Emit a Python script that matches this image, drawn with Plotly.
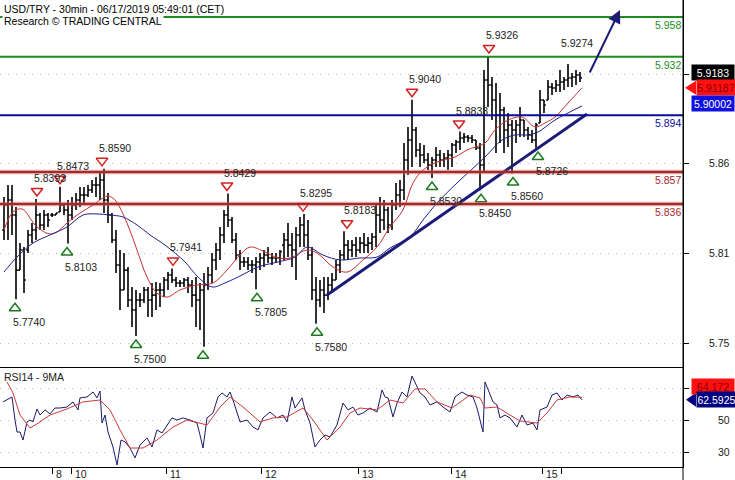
import plotly.graph_objects as go
from plotly.subplots import make_subplots

# USD/TRY 30min, values (every second 30-min bar)
bar_x = list(range(2, 292, 2))

bar_open = [
    5.8191, 5.8354, 5.8387, 5.8289, 5.7930, 5.8061, 5.8061, 5.8159, 5.8191, 5.8289,
    5.8224, 5.8289, 5.8289, 5.8289, 5.8309, 5.8354, 5.8322, 5.8289, 5.8354, 5.8387,
    5.8419, 5.8419, 5.8452, 5.8485, 5.8485, 5.8517, 5.8387, 5.8289, 5.8126, 5.7963,
    5.7800, 5.7930, 5.7735, 5.7670, 5.7735, 5.7735, 5.7800, 5.7735, 5.7767, 5.7800,
    5.7800, 5.7865, 5.7898, 5.7865, 5.7846, 5.7846, 5.7865, 5.7833, 5.7767, 5.7735,
    5.7800, 5.7833, 5.7898, 5.7996, 5.8061, 5.8159, 5.8289, 5.8256, 5.8126, 5.8028,
    5.7983, 5.7983, 5.7963, 5.7963, 5.7983, 5.8009, 5.8028, 5.8009, 5.8009, 5.8009,
    5.8093, 5.8126, 5.8093, 5.8061, 5.8159, 5.8224, 5.8159, 5.8028, 5.7800, 5.7735,
    5.7800, 5.7767, 5.7833, 5.7865, 5.7963, 5.8028, 5.8093, 5.8061, 5.8093, 5.8061,
    5.8106, 5.8093, 5.8106, 5.8146, 5.8289, 5.8256, 5.8322, 5.8224, 5.8354, 5.8419,
    5.8452, 5.8648, 5.8778, 5.8843, 5.8713, 5.8680, 5.8648, 5.8615, 5.8648, 5.8680,
    5.8648, 5.8661, 5.8680, 5.8745, 5.8765, 5.8791, 5.8798, 5.8791, 5.8778, 5.8726,
    5.8615, 5.9169, 5.9137, 5.9039, 5.8941, 5.8974, 5.8843, 5.8876, 5.8843, 5.8876,
    5.8908, 5.8843, 5.8811, 5.8778, 5.8889, 5.9039, 5.9039, 5.9124, 5.9117, 5.9137,
    5.9156, 5.9169, 5.9182, 5.9189, 5.9202,
]
bar_high = [
    5.8406, 5.8485, 5.8485, 5.8341, 5.8106, 5.8080, 5.8191, 5.8237, 5.8393, 5.8302,
    5.8322, 5.8302, 5.8302, 5.8302, 5.8473, 5.8354, 5.8387, 5.8406, 5.8432, 5.8472,
    5.8472, 5.8485, 5.8517, 5.8537, 5.8563, 5.8590, 5.8432, 5.8302, 5.8191, 5.8061,
    5.8041, 5.7950, 5.7820, 5.7800, 5.7780, 5.7820, 5.7820, 5.7846, 5.7852, 5.7846,
    5.7885, 5.7917, 5.7941, 5.7885, 5.7865, 5.7878, 5.7885, 5.7865, 5.7885, 5.7846,
    5.7911, 5.7950, 5.8041, 5.8106, 5.8211, 5.8322, 5.8429, 5.8276, 5.8172, 5.8061,
    5.8015, 5.8015, 5.7996, 5.8015, 5.8041, 5.8061, 5.8080, 5.8041, 5.8041, 5.8061,
    5.8172, 5.8237, 5.8172, 5.8211, 5.8276, 5.8295, 5.8256, 5.8080, 5.7885, 5.7865,
    5.7885, 5.7885, 5.7911, 5.7996, 5.8061, 5.8183, 5.8126, 5.8126, 5.8146, 5.8146,
    5.8172, 5.8146, 5.8172, 5.8367, 5.8406, 5.8387, 5.8341, 5.8387, 5.8498, 5.8517,
    5.8758, 5.8863, 5.9040, 5.8863, 5.8758, 5.8745, 5.8693, 5.8667, 5.8732, 5.8713,
    5.8693, 5.8713, 5.8758, 5.8778, 5.8833, 5.8824, 5.8811, 5.8811, 5.8778, 5.8758,
    5.9234, 5.9326, 5.9189, 5.9150, 5.9084, 5.8993, 5.8954, 5.8908, 5.8908, 5.8993,
    5.8908, 5.8863, 5.8843, 5.8889, 5.9104, 5.9039, 5.9169, 5.9150, 5.9169, 5.9234,
    5.9189, 5.9274, 5.9215, 5.9234, 5.9221,
]
bar_low = [
    5.8126, 5.8126, 5.8159, 5.7740, 5.7930, 5.7780, 5.8041, 5.8106, 5.8126, 5.8191,
    5.8191, 5.8211, 5.8276, 5.8289, 5.8309, 5.8289, 5.8103, 5.8256, 5.8322, 5.8341,
    5.8367, 5.8406, 5.8432, 5.8406, 5.8387, 5.8302, 5.8237, 5.8106, 5.7911, 5.7670,
    5.7800, 5.7689, 5.7559, 5.7500, 5.7689, 5.7715, 5.7624, 5.7624, 5.7670, 5.7689,
    5.7754, 5.7800, 5.7846, 5.7820, 5.7820, 5.7820, 5.7780, 5.7689, 5.7559, 5.7539,
    5.7430, 5.7800, 5.7846, 5.7930, 5.7996, 5.8106, 5.8211, 5.8106, 5.7996, 5.7930,
    5.7950, 5.7930, 5.7911, 5.7805, 5.7930, 5.7950, 5.7976, 5.7963, 5.7976, 5.7963,
    5.7996, 5.8015, 5.7950, 5.7865, 5.8080, 5.8080, 5.7996, 5.7735, 5.7580, 5.7689,
    5.7650, 5.7735, 5.7780, 5.7865, 5.7911, 5.7996, 5.7996, 5.8015, 5.8015, 5.8041,
    5.8041, 5.8041, 5.8061, 5.8080, 5.8172, 5.8191, 5.8172, 5.8191, 5.8322, 5.8341,
    5.8387, 5.8550, 5.8602, 5.8667, 5.8602, 5.8628, 5.8582, 5.8530, 5.8602, 5.8602,
    5.8602, 5.8582, 5.8602, 5.8693, 5.8713, 5.8758, 5.8765, 5.8758, 5.8713, 5.8450,
    5.8563, 5.8993, 5.8908, 5.8693, 5.8758, 5.8693, 5.8732, 5.8560, 5.8758, 5.8798,
    5.8798, 5.8778, 5.8758, 5.8726, 5.8889, 5.8954, 5.9039, 5.9071, 5.9091, 5.9091,
    5.9104, 5.9124, 5.9124, 5.9137, 5.9156,
]
bar_close = [
    5.8354, 5.8387, 5.8289, 5.7930, 5.8061, 5.7865, 5.8159, 5.8191, 5.8289, 5.8224,
    5.8289, 5.8256, 5.8289, 5.8302, 5.8354, 5.8322, 5.8289, 5.8354, 5.8387, 5.8419,
    5.8419, 5.8452, 5.8485, 5.8485, 5.8517, 5.8387, 5.8289, 5.8126, 5.7963, 5.7800,
    5.7930, 5.7735, 5.7670, 5.7735, 5.7735, 5.7800, 5.7735, 5.7767, 5.7800, 5.7800,
    5.7865, 5.7898, 5.7865, 5.7846, 5.7846, 5.7865, 5.7833, 5.7767, 5.7735, 5.7800,
    5.7833, 5.7898, 5.7996, 5.8061, 5.8159, 5.8289, 5.8256, 5.8126, 5.8028, 5.7983,
    5.7983, 5.7963, 5.7963, 5.7983, 5.8009, 5.8028, 5.8009, 5.8009, 5.8009, 5.8050,
    5.8126, 5.8093, 5.8061, 5.8159, 5.8224, 5.8159, 5.8028, 5.7800, 5.7735, 5.7800,
    5.7767, 5.7833, 5.7865, 5.7963, 5.8028, 5.8093, 5.8061, 5.8093, 5.8061, 5.8106,
    5.8093, 5.8106, 5.8146, 5.8289, 5.8256, 5.8322, 5.8224, 5.8354, 5.8419, 5.8452,
    5.8648, 5.8778, 5.8843, 5.8713, 5.8680, 5.8648, 5.8615, 5.8648, 5.8680, 5.8648,
    5.8661, 5.8680, 5.8745, 5.8765, 5.8791, 5.8798, 5.8791, 5.8778, 5.8726, 5.8615,
    5.9169, 5.9137, 5.9039, 5.8941, 5.8974, 5.8843, 5.8876, 5.8843, 5.8876, 5.8908,
    5.8843, 5.8811, 5.8778, 5.8876, 5.9039, 5.9006, 5.9124, 5.9117, 5.9137, 5.9156,
    5.9169, 5.9182, 5.9189, 5.9202, 5.9183,
]

# moving averages on price (red = fast, blue = slow)
ma_fast_x = [2, 6.5, 11, 18.5, 25, 28.5, 33.5, 40, 46.5, 51.5, 54, 57.5, 63.5, 68.5, 73.5,
             78.5, 83.5, 90, 98.5, 106.5, 113.5, 120, 125, 132.5, 139, 145, 153.5, 158.5,
             166.5, 173.5, 181.5, 188.5, 195, 201.5, 206.5, 211.5, 218.5, 227.5, 233.5,
             242.5, 247.5, 254, 261, 267.5, 272.5, 277.5, 284, 291]
ma_fast = [5.8191, 5.8309, 5.8328, 5.8211, 5.8165, 5.8178, 5.8237, 5.8302, 5.8354, 5.8400,
           5.8413, 5.8387, 5.8237, 5.8061, 5.7885, 5.7780, 5.7754, 5.7800, 5.7833, 5.7846,
           5.7930, 5.8028, 5.8080, 5.8048, 5.8009, 5.8009, 5.8061, 5.8041, 5.7950, 5.7917,
           5.7996, 5.8080, 5.8211, 5.8322, 5.8498, 5.8582, 5.8634, 5.8667, 5.8713, 5.8758,
           5.8843, 5.8908, 5.8928, 5.8863, 5.8889, 5.8928, 5.9019, 5.91187]
ma_slow_x = [2, 8.5, 16.5, 25, 33.5, 41.5, 48.5, 55, 61.5, 68.5, 75, 82.5, 92.5, 99, 106,
             112.5, 121, 129, 139, 147.5, 153.5, 161.5, 170, 180, 188.5, 195, 205, 211.5,
             218.5, 228.5, 242.5, 251, 257.5, 264, 269, 277.5, 291]
ma_slow = [5.7917, 5.8015, 5.8106, 5.8159, 5.8211, 5.8289, 5.8296, 5.8289, 5.8276, 5.8224,
           5.8159, 5.8093, 5.7983, 5.7885, 5.7820, 5.7846, 5.7898, 5.7950, 5.7983, 5.8015,
           5.8080, 5.8028, 5.7996, 5.8009, 5.8015, 5.8074, 5.8146, 5.8256, 5.8367, 5.8498,
           5.8667, 5.8778, 5.8811, 5.8811, 5.8830, 5.8908, 5.90002]

# RSI14 and its 9-period MA
rsi_x = [1.5, 5, 6, 7.5, 8.5, 10, 11.5, 13.5, 15, 16.5, 18.5, 20, 22.5, 25, 27.5, 30, 33.5,
         36.5, 39, 40, 43.5, 46.5, 48.5, 50, 51, 52.5, 54, 56.5, 58.5, 60.5, 62.5, 65, 67.5,
         70, 73.5, 76, 78.5, 81, 83.5, 86, 88.5, 91.5, 95, 98.5, 100, 101.5, 103.5, 106.5,
         109, 111, 113.5, 115, 116.5, 120, 123.5, 126.5, 129, 131.5, 135, 138.5, 141.5,
         143.5, 146, 147.5, 151, 152.5, 155, 157.5, 160, 162.5, 165, 168.5, 171.5, 174,
         176.5, 179, 181.5, 185, 188.5, 191, 192.5, 194, 196.5, 198.5, 201, 203.5, 206,
         207.5, 210, 212.5, 215, 218.5, 221.5, 225, 227.5, 231, 233.5, 236.5, 238.5, 240,
         241.5, 242.5, 244, 246.5, 248.5, 250, 252.5, 255, 258.5, 261, 263.5, 266.5, 268.5,
         270, 273.5, 276, 278.5, 281, 283.5, 286.5, 289, 291]
rsi = [61.3, 63.8, 64.4, 50, 42.5, 42.5, 37.5, 48.8, 50, 48.8, 56.9, 53.1, 56.3, 53.8, 57.5,
       57.5, 58.1, 61.3, 56.3, 63.8, 64.4, 67.5, 63.8, 68.1, 48.1, 53.1, 42.5, 33.1, 21.9,
       37.5, 36.3, 32.5, 26.3, 34.4, 38.8, 33.1, 43.8, 41.9, 46.9, 51.3, 50, 51.3, 50, 48.1,
       40.6, 32.5, 51.3, 54.4, 64.4, 66.9, 64.4, 67.5, 62.5, 48.8, 50, 45.6, 43.8, 51.3, 55,
       51.3, 53.1, 48.8, 64.4, 57.5, 63.8, 56.3, 48.1, 33.1, 37.5, 40.6, 39.4, 46.9, 60.6,
       56.3, 58.1, 53.1, 54.4, 57.5, 55, 68.8, 64.4, 63.8, 51.9, 60.6, 67.5, 64.4, 77.5, 73.1,
       66.9, 64.4, 59.4, 61.3, 58.1, 55, 64.4, 67.5, 65.6, 64.4, 57.5, 50, 42.5, 73.8, 68.8,
       61.3, 59.4, 51.3, 53.1, 51.3, 45.6, 53.1, 46.9, 48.1, 43.8, 56.3, 58.1, 65.6, 66.9,
       62.5, 65.6, 64.4, 65.6, 62.5925]
rsi_ma_x = [3.5, 6.5, 10, 15, 20, 25, 33.5, 41.5, 50, 55, 60, 65, 71.5, 78.5, 86.5, 93.5,
            103.5, 110, 115, 121.5, 130, 136.5, 143.5, 151.5, 156.5, 163.5, 170, 175, 180,
            188.5, 195, 201.5, 207.5, 212.5, 218.5, 226, 235, 240, 242.5, 248.5, 255, 260,
            268.5, 273.5, 278.5, 285, 291]
rsi_ma = [73.8, 66.9, 53.1, 45, 48.8, 53.1, 56.9, 61.3, 62.5, 56.3, 43.8, 32.5, 32.5, 37.5,
          45.6, 50, 46.9, 58.1, 64.4, 58.1, 48.8, 51.3, 51.9, 57.5, 50, 37.5, 45.6, 54.4, 57.5,
          56.3, 62.5, 60.6, 69.4, 69.4, 61.3, 57.5, 65.6, 63.8, 57.5, 58.1, 53.1, 49.4, 48.1,
          54.4, 62.5, 64.4, 64.172]

# TRADING CENTRAL pivots
pivot_hi_x = [18.5, 30, 51, 86.5, 113.5, 151.5, 173.5, 206, 229.5, 244.5]
pivot_hi = [5.8393, 5.8473, 5.8590, 5.7941, 5.8429, 5.8295, 5.8183, 5.9040, 5.8833, 5.9326]
pivot_lo_x = [7.5, 33.5, 68, 101.5, 128.5, 158.5, 216, 240.5, 256.5, 269]
pivot_lo = [5.7740, 5.8103, 5.7500, 5.7430, 5.7805, 5.7580, 5.8530, 5.8450, 5.8560, 5.8726]
pivot_lo_txt = ["5.7740", "5.8103", "5.7500", "", "5.7805", "5.7580", "5.8530", "5.8450",
                "5.8560", "5.8726"]
last_peak_x = 282
last_peak = 5.9274

# key levels
levels = [5.958, 5.932, 5.894, 5.857, 5.836]
level_colors = ["#1e8c1e", "#1e8c1e", "#0b0b9c", "#a52a2a", "#a52a2a"]

# trend line and projection arrow
trend_x = [163.5, 293.5]
trend_y = [5.7767, 5.8948]
arrow_from = (294.5, 5.9208)
arrow_to = (310, 5.9626)

last_price = 5.9183
day_ticks = [26, 35.5, 83, 130.5, 179, 225.5, 271, 280.5]
day_labels = ["8", "10", "11", "12", "13", "14", "15", ""]

PRICE_RANGE = [5.72981, 5.96908]
RSI_RANGE = [20.625, 83.125]
X_RANGE = [0, 341.5]
PX = (PRICE_RANGE[1] - PRICE_RANGE[0]) / 367  # price per pixel in main panel

FONT = "Liberation Sans, Arial, sans-serif"
FS = 10.5
NAVY = "#1c1c78"

fig = make_subplots(rows=2, cols=1, shared_xaxes=True, vertical_spacing=0,
                    row_heights=[367, 100])

fig.add_trace(go.Ohlc(x=bar_x, open=bar_open, high=bar_high, low=bar_low, close=bar_close,
                      increasing_line_color="black", decreasing_line_color="black",
                      line_width=1.6, tickwidth=0.45, hoverinfo="skip"), row=1, col=1)
fig.add_trace(go.Scatter(x=ma_fast_x, y=ma_fast, mode="lines", line=dict(color="#c83030", width=1),
                         line_shape="spline", hoverinfo="skip"), row=1, col=1)
fig.add_trace(go.Scatter(x=ma_slow_x, y=ma_slow, mode="lines", line=dict(color="#20208a", width=1),
                         line_shape="spline", hoverinfo="skip"), row=1, col=1)
fig.add_trace(go.Scatter(x=trend_x, y=trend_y, mode="lines", line=dict(color=NAVY, width=3),
                         hoverinfo="skip"), row=1, col=1)

# pivot triangles
fig.add_trace(go.Scatter(x=pivot_hi_x, y=[v + 8 * PX for v in pivot_hi], mode="markers",
                         marker=dict(symbol="triangle-down-open", size=10, color="#d42020",
                                     line=dict(width=1.5)), hoverinfo="skip"), row=1, col=1)
fig.add_trace(go.Scatter(x=pivot_lo_x, y=[v - 9 * PX for v in pivot_lo], mode="markers",
                         marker=dict(symbol="triangle-up-open", size=10, color="#1e7a1e",
                                     line=dict(width=1.5)), hoverinfo="skip"), row=1, col=1)

# RSI panel
fig.add_trace(go.Scatter(x=rsi_x, y=rsi, mode="lines", line=dict(color="#1a1a6a", width=1),
                         hoverinfo="skip"), row=2, col=1)
fig.add_trace(go.Scatter(x=rsi_ma_x, y=rsi_ma, mode="lines", line=dict(color="#c83a3a", width=1),
                         hoverinfo="skip"), row=2, col=1)

shapes = []
for lv, col in zip(levels, level_colors):
    if col == "#a52a2a":
        shapes.append(dict(type="line", xref="paper", x0=0, x1=1, yref="y", y0=lv, y1=lv,
                           line=dict(color="rgba(225,120,120,0.35)", width=5)))
        shapes.append(dict(type="line", xref="paper", x0=0, x1=1, yref="y", y0=lv, y1=lv,
                           line=dict(color=col, width=2.5)))
    else:
        shapes.append(dict(type="line", xref="paper", x0=0, x1=1, yref="y", y0=lv, y1=lv,
                           line=dict(color=col, width=2)))
# axis line running into bottom margin
shapes.append(dict(type="line", xref="paper", x0=1, x1=1, yref="paper", y0=-0.03, y1=1,
                   line=dict(color="black", width=1)))
# pointers of the value boxes
shapes.append(dict(type="path", xref="paper", xsizemode="pixel", xanchor=1, yref="y",
                   ysizemode="pixel", yanchor=5.91187, path="M 2,0 L 13,7 L 13,-7 Z",
                   fillcolor="#ff1010", line=dict(width=0)))
shapes.append(dict(type="path", xref="paper", xsizemode="pixel", xanchor=1, yref="y2",
                   ysizemode="pixel", yanchor=rsi[-1], path="M 3,0 L 13,7 L 13,-7 Z",
                   fillcolor="#000080", line=dict(width=0)))

ann = []
ann.append(dict(text="USD/TRY - 30min - 06/17/2019 05:49:01 (CET)", xref="paper", yref="paper",
                x=0, y=1, xanchor="left", yanchor="top", xshift=2, yshift=-1, showarrow=False,
                font=dict(size=FS, color="black")))
ann.append(dict(text="Research © TRADING CENTRAL", xref="paper", yref="paper",
                x=0, y=1, xanchor="left", yanchor="top", xshift=2, yshift=-13, showarrow=False,
                bgcolor="white", borderpad=1, font=dict(size=FS, color="black")))

for lv, col in zip(levels, level_colors):
    ann.append(dict(text=f"{lv:.3f}", xref="paper", yref="y", x=1, y=lv, xanchor="right",
                    yanchor="middle", yshift=-8, showarrow=False, font=dict(size=FS, color=col)))

for x, v in zip(pivot_hi_x, pivot_hi):
    ann.append(dict(text=f"{v:.4f}", x=x, y=v, xref="x", yref="y", xanchor="left",
                    yanchor="middle", xshift=-5, yshift=21, showarrow=False,
                    font=dict(size=FS, color="#222")))
ann.append(dict(text=f"{last_peak:.4f}", x=last_peak_x, y=last_peak, xref="x", yref="y",
                xanchor="left", yanchor="middle", xshift=-5, yshift=21, showarrow=False,
                font=dict(size=FS, color="#222")))
for x, v, t in zip(pivot_lo_x, pivot_lo, pivot_lo_txt):
    if t:
        ann.append(dict(text=t, x=x, y=v, xref="x", yref="y", xanchor="left",
                        yanchor="middle", xshift=-4, yshift=-23, showarrow=False,
                        font=dict(size=FS, color="#222")))

# projection arrow
ann.append(dict(x=arrow_to[0], y=arrow_to[1], ax=arrow_from[0], ay=arrow_from[1],
                xref="x", yref="y", axref="x", ayref="y", text="", showarrow=True,
                arrowhead=2, arrowsize=1.3, arrowwidth=2, arrowcolor=NAVY))

# right axis labels
for val, txt in [(5.8628, "5.86"), (5.8041, "5.81"), (5.7454, "5.75")]:
    ann.append(dict(text=txt, xref="paper", yref="y", x=1, y=val, xanchor="right",
                    yanchor="middle", xshift=49, showarrow=False, font=dict(size=FS, color="#222")))
for val in [50, 30]:
    ann.append(dict(text=str(val), xref="paper", yref="y2", x=1, y=val, xanchor="right",
                    yanchor="middle", xshift=49, showarrow=False, font=dict(size=FS, color="#222")))

# value boxes
box = dict(xref="paper", x=1, xanchor="left", yanchor="middle", showarrow=False,
           height=13, borderpad=1)
ann.append(dict(box, text=f"{last_price:.4f}", yref="y", y=last_price, yshift=5, xshift=8,
                width=40, bgcolor="black", font=dict(size=FS, color="white")))
ann.append(dict(box, text=f"{ma_fast[-1]:.5f}", yref="y", y=ma_fast[-1], xshift=13,
                width=36, bgcolor="#ff1010", font=dict(size=FS, color="#8a0000")))
ann.append(dict(box, text=f"{ma_slow[-1]:.5f}", yref="y", y=ma_slow[-1], yshift=2, xshift=8,
                width=40, bgcolor="#1010e0", font=dict(size=FS, color="white")))
ann.append(dict(box, text=f"{rsi_ma[-1]:.3f}", yref="y2", y=rsi_ma[-1], yshift=11, xshift=8,
                width=40, bgcolor="#ff1010", font=dict(size=FS, color="#8a0000")))
ann.append(dict(box, text=f"{rsi[-1]:.4f}", yref="y2", y=rsi[-1], xshift=13,
                width=37, bgcolor="#000080", font=dict(size=FS, color="white")))

ann.append(dict(text="RSI14 - 9MA", xref="paper", yref="y2 domain", x=0, y=1, xanchor="left",
                yanchor="top", xshift=2, yshift=-2, showarrow=False,
                font=dict(size=FS, color="#222")))

# day labels under the axis
for t, lab in zip(day_ticks, day_labels):
    if lab:
        ann.append(dict(text=lab, xref="x2", yref="paper", x=t, y=0, xanchor="left",
                        yanchor="top", xshift=2, yshift=1, showarrow=False,
                        font=dict(size=FS, color="#222")))

fig.update_layout(
    width=735, height=480,
    margin=dict(l=0, r=52, t=0, b=13),
    paper_bgcolor="white", plot_bgcolor="white",
    showlegend=False,
    font=dict(family=FONT, size=FS, color="#222"),
    shapes=shapes, annotations=ann,
    hovermode=False,
)
fig.update_xaxes(range=X_RANGE, showgrid=False, zeroline=False, showline=True,
                 linecolor="black", linewidth=1, rangeslider_visible=False)
fig.update_xaxes(ticks="", showticklabels=False, row=1, col=1)
fig.update_xaxes(tickvals=day_ticks, ticks="outside", ticklen=6, tickcolor="black",
                 showticklabels=False, row=2, col=1)
fig.update_yaxes(side="right", showline=True, linecolor="black", linewidth=1, zeroline=False,
                 ticks="outside", ticklen=5, tickcolor="black", showticklabels=False,
                 showgrid=True, gridcolor="#b8b8b8", griddash="1px,7px", gridwidth=1)
fig.update_yaxes(range=PRICE_RANGE, tickvals=[5.9208, 5.8628, 5.8041, 5.7454], row=1, col=1)
fig.update_yaxes(range=RSI_RANGE, tickvals=[70, 50, 30], row=2, col=1)

# page body has a default 8px margin; drop it so the figure fills the window
fig.write_html("out.html", config={"staticPlot": True},
               post_script="document.body.style.margin='0';document.body.style.padding='0';")
